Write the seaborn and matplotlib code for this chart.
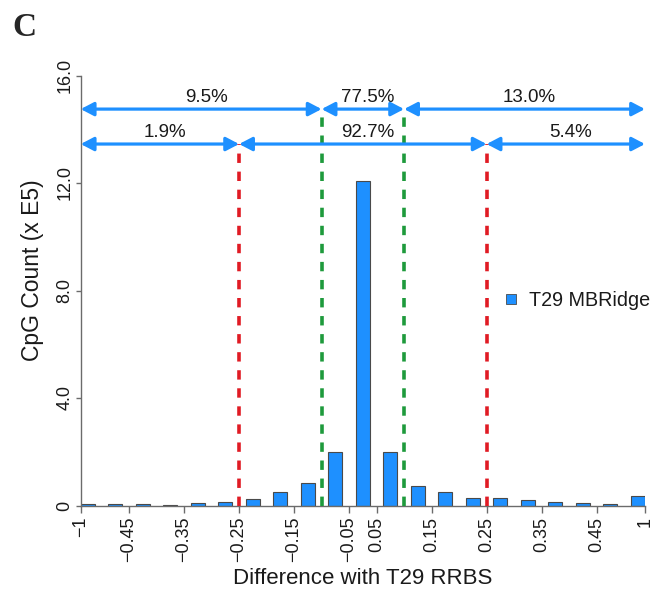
import matplotlib
matplotlib.use("Agg")
import matplotlib.pyplot as plt
from matplotlib.lines import Line2D
import seaborn as sns
import pandas as pd

# ---- data ----
bin_edges = [-1, -0.5, -0.45, -0.4, -0.35, -0.3, -0.25, -0.2, -0.15, -0.1, -0.05,
             0.05, 0.1, 0.15, 0.2, 0.25, 0.3, 0.35, 0.4, 0.45, 0.5, 1]
counts = [0.06, 0.06, 0.06, 0.03, 0.09, 0.14, 0.26, 0.50, 0.83, 2.00, 12.08,
          1.98, 0.72, 0.52, 0.29, 0.28, 0.20, 0.13, 0.09, 0.06, 0.37]
tick_values = [-1, -0.45, -0.35, -0.25, -0.15, -0.05, 0.05, 0.15, 0.25, 0.35, 0.45, 1]
tick_labels = ["\u22121", "\u22120.45", "\u22120.35", "\u22120.25", "\u22120.15", "\u22120.05",
               "0.05", "0.15", "0.25", "0.35", "0.45", "1"]
y_ticks = [0, 4, 8, 12, 16]
y_tick_labels = ["0", "4.0", "8.0", "12.0", "16.0"]
inner_thr = [-0.1, 0.1]
outer_thr = [-0.25, 0.25]
inner_pct = ["9.5%", "77.5%", "13.0%"]
outer_pct = ["1.9%", "92.7%", "5.4%"]
inner_arrow_y = 14.75
outer_arrow_y = 13.45
series_name = "T29 MBRidge"

bins = [f"[{a},{b})" for a, b in zip(bin_edges[:-1], bin_edges[1:])]
df = pd.DataFrame({"bin": bins, "count": counts})

BLUE = "#1E90FF"
RED = "#E01B24"
GREEN = "#1E9A3C"
AXC = "#6b6b6b"
BAR_W = 0.52

sns.set_theme(style="white")
plt.rcParams["font.family"] = ["Liberation Sans", "DejaVu Sans"]

fig = plt.figure(figsize=(6.52, 5.99), dpi=100)
ax = fig.add_axes([80.7 / 652, 93.5 / 599, 564.3 / 652, 430 / 599])

sns.barplot(data=df, x="bin", y="count", order=bins, color=BLUE, saturation=1,
            width=BAR_W, edgecolor="#4a4a4a", linewidth=0.8, ax=ax)

n = len(bins)


def edge_pos(v):
    k = bin_edges.index(v)
    if k == 0:
        return -BAR_W / 2
    if k == n:
        return n - 1 + BAR_W / 2
    return k - 0.5


x_left = edge_pos(bin_edges[0])
x_right = edge_pos(bin_edges[-1])
ax.set_xlim(x_left, x_right)
ax.set_ylim(0, 16)

# ticks
ax.set_xticks([edge_pos(v) for v in tick_values])
ax.set_xticklabels(tick_labels, rotation=90, fontsize=13, color="#1a1a1a")
ax.set_yticks(y_ticks)
ax.set_yticklabels(y_tick_labels, rotation=90, va="center", fontsize=13, color="#1a1a1a")
ax.tick_params(axis="x", direction="out", length=5, width=1, color=AXC, pad=3, bottom=True)
ax.tick_params(axis="y", direction="out", length=3.8, width=1, color=AXC, pad=1.5, left=True)

for s in ["top", "right"]:
    ax.spines[s].set_visible(False)
for s in ["left", "bottom"]:
    ax.spines[s].set_color(AXC)
    ax.spines[s].set_linewidth(1)

ax.set_xlabel("Difference with T29 RRBS", fontsize=16, color="#1a1a1a", labelpad=4)
ax.set_ylabel("CpG Count (x E5)", fontsize=16.5, color="#1a1a1a")
ax.yaxis.set_label_coords(-(80.7 - 44) / 564.3, (505.5 - 270) / 430)

# threshold lines
for thr_set, col, top in [(outer_thr, RED, outer_arrow_y), (inner_thr, GREEN, inner_arrow_y)]:
    for t in thr_set:
        xp = edge_pos(t)
        ax.plot([xp, xp], [0, top], color=col, lw=2.6, dashes=(2.6, 2.4),
                solid_capstyle="butt", zorder=3, clip_on=False)

# arrows + labels
for thr_set, pcts, yy in [(inner_thr, inner_pct, inner_arrow_y), (outer_thr, outer_pct, outer_arrow_y)]:
    pts = [x_left, edge_pos(thr_set[0]), edge_pos(thr_set[1]), x_right]
    for i in range(3):
        a, b = pts[i], pts[i + 1]
        ax.annotate("", xy=(b, yy), xytext=(a, yy),
                    arrowprops=dict(arrowstyle="<|-|>,head_length=0.65,head_width=0.34",
                                    lw=2.3, color=BLUE, shrinkA=0, shrinkB=0),
                    annotation_clip=False, zorder=4)
        ax.text((a + b) / 2 + 0.18, yy + 0.27, pcts[i], ha="center", va="baseline",
                fontsize=13.5, color="#1a1a1a")

# legend
handle = Line2D([], [], marker="s", ls="", color=BLUE, mec="#4a4a4a", mew=0.6, ms=6.5)
leg = ax.legend([handle], [series_name], frameon=False, fontsize=14.2,
                loc="center left", bbox_to_anchor=(503 / 652, 1 - 300 / 599),
                bbox_transform=fig.transFigure, handlelength=0.8, handletextpad=0.5,
                borderpad=0, borderaxespad=0)
for t in leg.get_texts():
    t.set_color("#1a1a1a")

# panel letter
fig.text(12 / 652, 1 - 36 / 599, "C", fontsize=24, fontweight="bold",
         family=["Liberation Serif", "DejaVu Serif"], ha="left", va="baseline")

fig.savefig("out.png", dpi=100)
